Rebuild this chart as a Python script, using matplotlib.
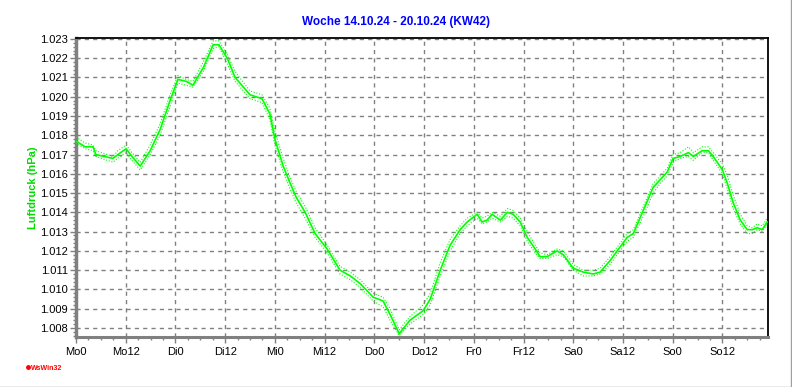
import matplotlib.pyplot as plt
from matplotlib.lines import Line2D
from matplotlib.ticker import MultipleLocator, FixedLocator
import numpy as np

plt.rcParams['font.family'] = ['Liberation Sans', 'DejaVu Sans']

# hours since Mo 0:00
hours = [0.0, 2.2, 4.1, 4.8, 8.9, 10.1, 12.1, 13.5, 15.5, 17.9, 20.3, 22.7,
         24.6, 26.6, 28.2, 30.7, 33.1, 34.5, 36.5, 38.4, 42.0, 44.9, 46.8, 48.0,
         50.0, 51.7, 53.1, 55.3, 57.7, 60.6, 63.7, 66.2, 68.6, 71.7, 74.1, 75.8,
         78.0, 80.6, 83.8, 85.5, 87.9, 90.3, 92.7, 94.4, 96.8, 98.0, 99.2, 100.4,
         102.4, 104.1, 105.5, 107.2, 108.9, 110.8, 112.0, 113.7, 116.1, 117.6,
         120.0, 122.4, 124.8, 126.5, 128.9, 131.3, 133.0, 134.5, 136.9, 139.3,
         141.0, 142.7, 144.1, 145.8, 147.8, 149.0, 151.1, 152.6, 153.8, 156.0,
         157.2, 158.6, 160.3, 162.0, 163.2, 164.4, 165.6, 166.8]

# mean
druck = [1.0177, 1.0174, 1.0174, 1.0170, 1.0168, 1.0170, 1.0173, 1.0169, 1.0164,
         1.0172, 1.0183, 1.0198, 1.0209, 1.0208, 1.0206, 1.0215, 1.0227, 1.0227,
         1.0220, 1.0210, 1.0201, 1.0199, 1.0191, 1.0178, 1.0164, 1.0155, 1.0148,
         1.0140, 1.0129, 1.0121, 1.0110, 1.0107, 1.0103, 1.0096, 1.0094, 1.0087,
         1.0077, 1.0084, 1.0089, 1.0095, 1.0110, 1.0123, 1.0131, 1.0135, 1.0139,
         1.0135, 1.0136, 1.0139, 1.0136, 1.0140, 1.0139, 1.0135, 1.0127, 1.0121,
         1.0117, 1.0117, 1.0120, 1.0118, 1.0111, 1.0109, 1.0108, 1.0109, 1.0115,
         1.0122, 1.0127, 1.0129, 1.0141, 1.0153, 1.0157, 1.0161, 1.0168, 1.0169,
         1.0171, 1.0169, 1.0172, 1.0172, 1.0169, 1.0162, 1.0155, 1.0145, 1.0136,
         1.0131, 1.0131, 1.0132, 1.0131, 1.0135]

# max
druck_max = [1.0179, 1.0176, 1.0175, 1.0172, 1.0169, 1.0172, 1.0175, 1.0171, 1.0166,
             1.0175, 1.0186, 1.0201, 1.0211, 1.0209, 1.0208, 1.0218, 1.0229, 1.0229,
             1.0222, 1.0213, 1.0203, 1.0201, 1.0194, 1.0182, 1.0168, 1.0158, 1.0151,
             1.0143, 1.0132, 1.0123, 1.0112, 1.0109, 1.0105, 1.0098, 1.0096, 1.0090,
             1.0079, 1.0086, 1.0092, 1.0098, 1.0114, 1.0126, 1.0133, 1.0137, 1.0140,
             1.0137, 1.0138, 1.0140, 1.0138, 1.0142, 1.0141, 1.0137, 1.0130, 1.0123,
             1.0119, 1.0118, 1.0121, 1.0120, 1.0113, 1.0110, 1.0110, 1.0111, 1.0117,
             1.0124, 1.0129, 1.0131, 1.0143, 1.0155, 1.0159, 1.0163, 1.0170, 1.0171,
             1.0174, 1.0171, 1.0174, 1.0174, 1.0171, 1.0165, 1.0159, 1.0149, 1.0139,
             1.0133, 1.0132, 1.0134, 1.0133, 1.0137]

# min
druck_min = [1.0176, 1.0173, 1.0172, 1.0169, 1.0166, 1.0168, 1.0171, 1.0167, 1.0162,
             1.0170, 1.0180, 1.0195, 1.0207, 1.0206, 1.0205, 1.0213, 1.0225, 1.0226,
             1.0217, 1.0208, 1.0199, 1.0197, 1.0188, 1.0175, 1.0161, 1.0152, 1.0145,
             1.0137, 1.0127, 1.0119, 1.0108, 1.0105, 1.0101, 1.0094, 1.0091, 1.0084,
             1.0076, 1.0082, 1.0087, 1.0092, 1.0107, 1.0120, 1.0129, 1.0133, 1.0137,
             1.0134, 1.0135, 1.0137, 1.0135, 1.0138, 1.0137, 1.0133, 1.0125, 1.0119,
             1.0116, 1.0116, 1.0118, 1.0117, 1.0110, 1.0107, 1.0107, 1.0108, 1.0113,
             1.0120, 1.0125, 1.0127, 1.0138, 1.0150, 1.0155, 1.0159, 1.0166, 1.0168,
             1.0169, 1.0167, 1.0171, 1.0171, 1.0167, 1.0160, 1.0152, 1.0142, 1.0134,
             1.0129, 1.0129, 1.0131, 1.0130, 1.0134]

tage = ['Mo', 'Di', 'Mi', 'Do', 'Fr', 'Sa', 'So']
xlabels = [t + s for t in tage for s in ('0', '12')]
yticks = [1.008, 1.009, 1.010, 1.011, 1.012, 1.013, 1.014, 1.015,
          1.016, 1.017, 1.018, 1.019, 1.020, 1.021, 1.022, 1.023]

green = '#00ff00'
grey = '#808080'

fig = plt.figure(figsize=(7.92, 3.87), dpi=100)
ax = fig.add_axes([76 / 792, 1 - 337 / 387, (768 - 76) / 792, (337 - 38) / 387])

ax.plot(hours, druck_max, color=green, lw=0.8, ls=(0, (1, 1.5)), zorder=3)
ax.plot(hours, druck_min, color=green, lw=0.8, ls=(0, (1, 1.5)), zorder=3)
ax.plot(hours, druck, color=green, lw=1.2, zorder=4)

ax.set_xlim(0, 167)
ax.set_ylim(1.00753, 1.02305)

ax.xaxis.set_major_locator(FixedLocator(np.arange(len(xlabels)) * 12))
ax.set_xticklabels(xlabels)
ax.xaxis.set_minor_locator(MultipleLocator(3))
ax.set_yticks(yticks)
ax.set_yticklabels(['%.3f' % v for v in yticks])
ax.yaxis.set_minor_locator(MultipleLocator(0.0002))

ax.tick_params(axis='both', which='major', labelsize=8, color=grey, length=4, width=1)
ax.tick_params(axis='both', which='minor', color=grey, length=2, width=1)
ax.tick_params(axis='x', pad=3)
ax.tick_params(axis='y', pad=2)

ax.grid(True, which='major', color=grey, ls=(0, (3, 3)), lw=1)

ax.spines['left'].set_color(grey)
ax.spines['left'].set_linewidth(2.5)
ax.spines['bottom'].set_color(grey)
ax.spines['bottom'].set_linewidth(2.2)
ax.spines['top'].set_color('black')
ax.spines['top'].set_linewidth(1.3)
ax.spines['right'].set_color('black')
ax.spines['right'].set_linewidth(1.3)

ax.set_ylabel('Luftdruck (hPa)', color='#00dd00', fontsize=8, fontweight='bold', labelpad=1)

fig.text(0.5, 1 - 22 / 387, 'Woche 14.10.24 - 20.10.24 (KW42)', color='#0000ff',
         fontsize=8.5, fontweight='bold', ha='center', va='center')

# logo
fig.text(31 / 792, 1 - 368 / 387, 'WsWin32', color='red', fontsize=5,
         fontweight='bold', ha='left', va='center')
fig.add_artist(Line2D([28 / 792], [1 - 367 / 387], marker='o', ms=2.5,
                      color='red', transform=fig.transFigure))

# figure border
fig.add_artist(Line2D([0, 1], [0.5 / 387, 0.5 / 387], color='#a0a0a0', lw=1,
                      transform=fig.transFigure))
fig.add_artist(Line2D([790.5 / 792, 790.5 / 792], [0, 1], color='#a0a0a0', lw=1,
                      transform=fig.transFigure))

fig.savefig('out.png', dpi=100)
